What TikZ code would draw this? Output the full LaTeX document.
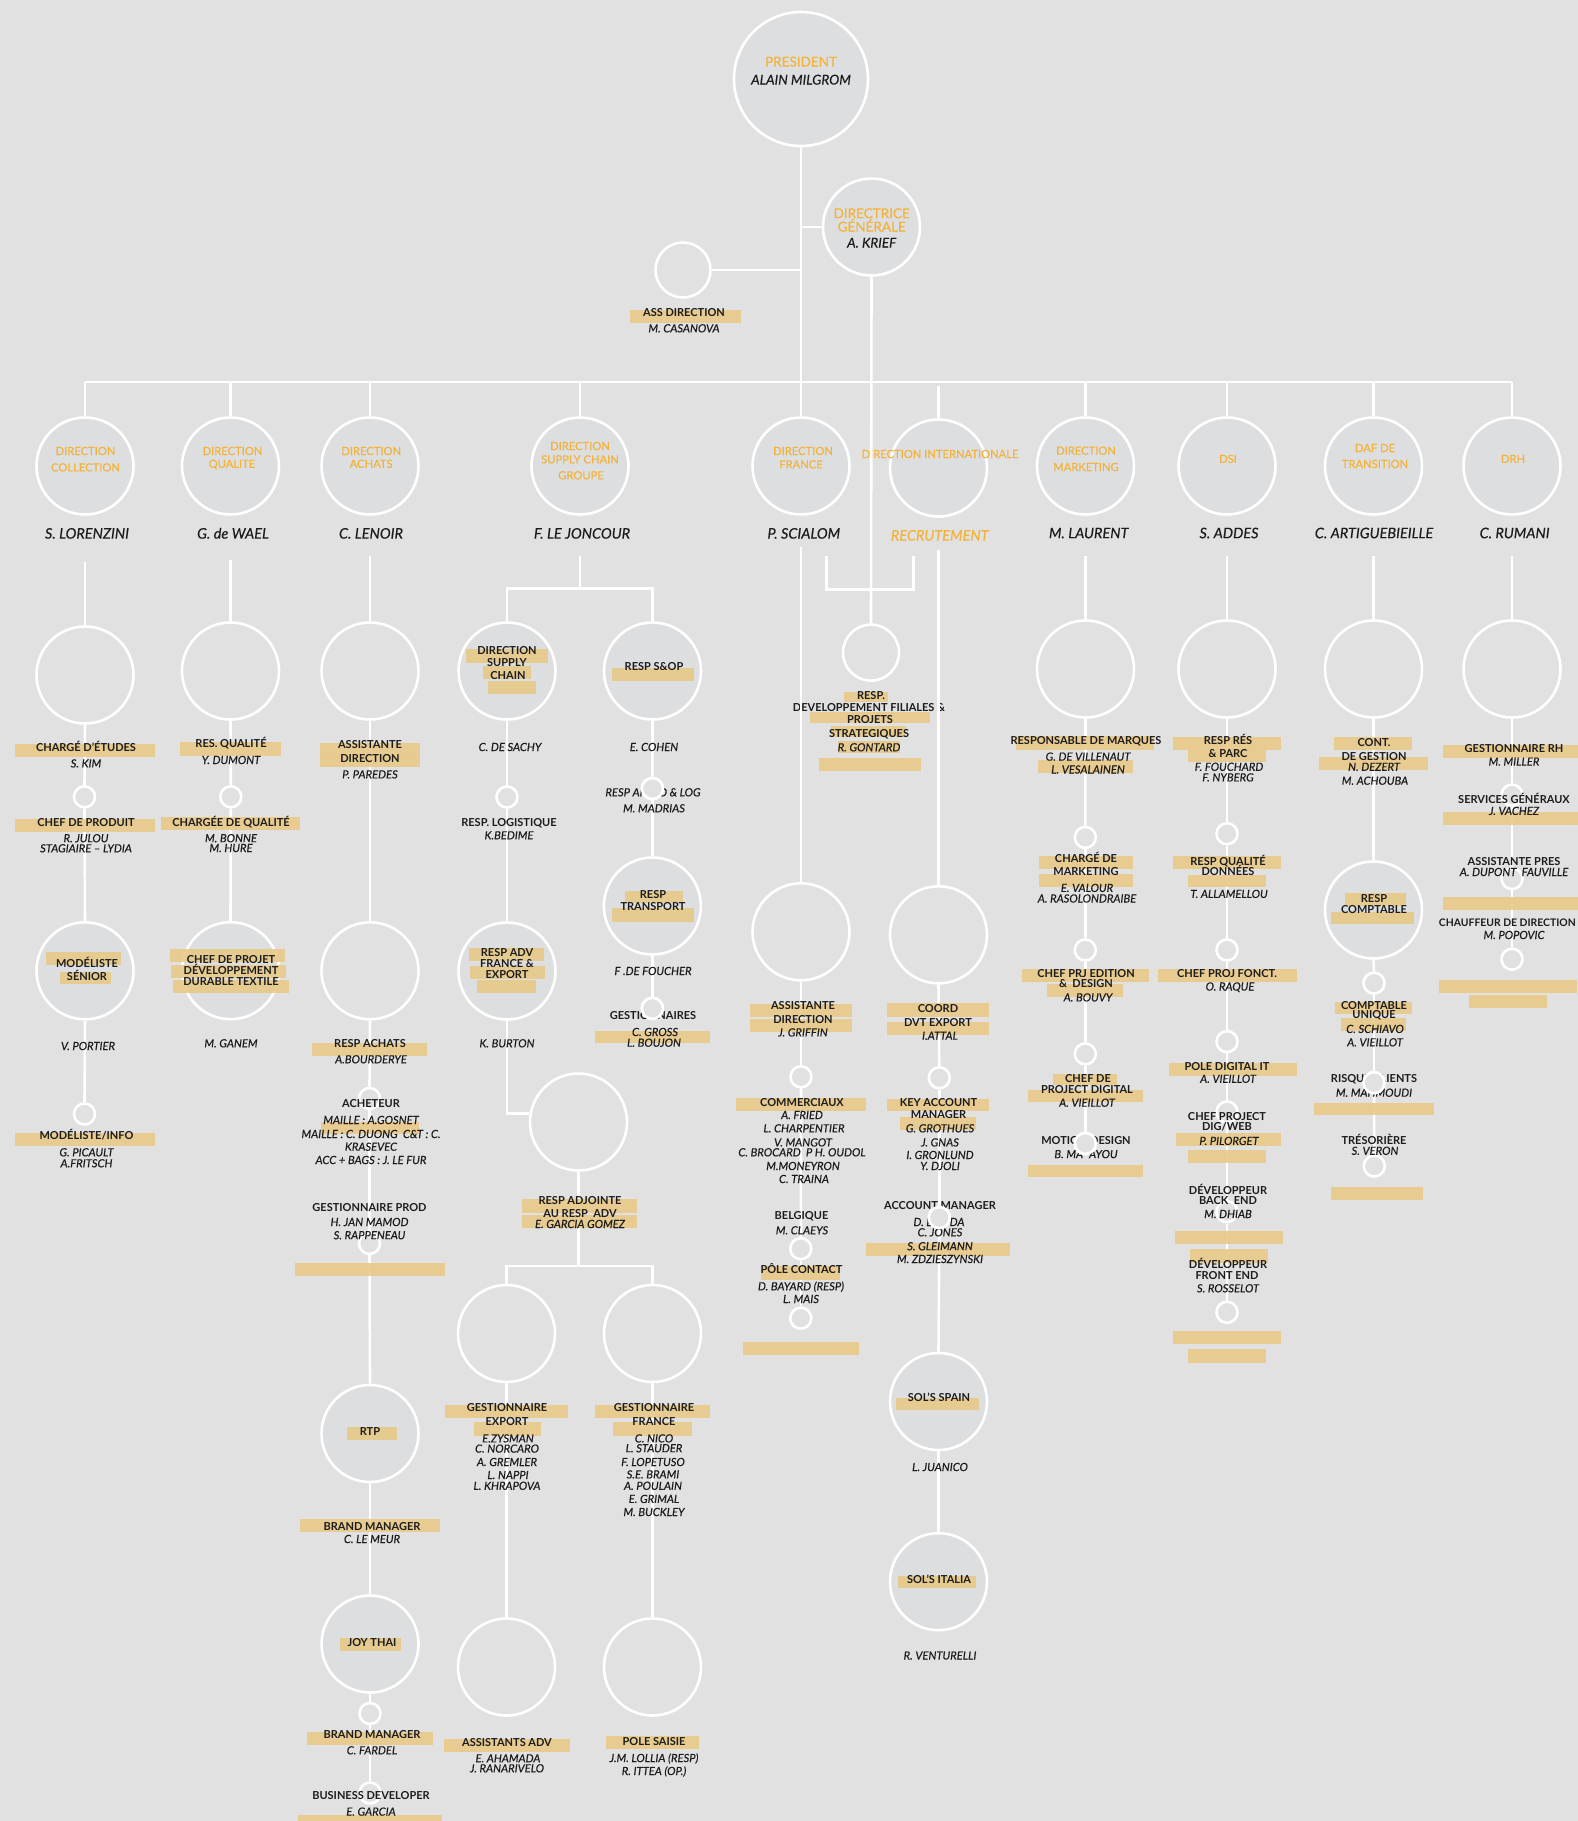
\documentclass[tikz,border=0pt]{standalone}
\usepackage{fontspec}
\setmainfont{Lato}
\newfontfamily\latom{Lato}[FakeBold=0.4]
\definecolor{bgc}{HTML}{E1E1E1}
\definecolor{cfill}{HTML}{DDDEE0}
\definecolor{barc}{HTML}{E8C988}
\definecolor{orng}{HTML}{F2B33D}
\definecolor{txt}{HTML}{1C1C1C}
\tikzset{
 ln/.style={draw=white, line width=2.6pt},
 cir/.style={circle, draw=white, line width=2.6pt, inner sep=0pt},
 bigc/.style={cir, minimum size=97pt},
 bigf/.style={bigc, fill=cfill},
 smc/.style={cir, minimum size=21pt},
 lab/.style={font=\fontsize{11}{12}\selectfont\bfseries, text=txt, anchor=base, yshift=-3.94pt, inner sep=0pt},
 nm/.style={font=\latom\fontsize{11.2}{12}\selectfont\itshape, text=txt, anchor=base, yshift=-4pt, inner sep=0pt},
 bign/.style={font=\latom\fontsize{14.5}{16}\selectfont\itshape, text=txt, anchor=base, yshift=-5.2pt, inner sep=0pt},
 hdr/.style={font=\latom\fontsize{11.2}{13}\selectfont, text=orng, anchor=base, yshift=-4pt, inner sep=0pt},
 phdr/.style={font=\latom\fontsize{13.5}{15}\selectfont, text=orng, anchor=base, yshift=-4.8pt, inner sep=0pt},
 pnm/.style={font=\latom\fontsize{13.5}{15}\selectfont\itshape, text=txt, anchor=base, yshift=-4.8pt, inner sep=0pt},
}
\newcounter{tn}
\newcommand\mytx[4]{\stepcounter{tn}\node[#1] (t\number\value{tn}) at (#2,#3) {#4};}
\newcommand\mybar[4]{\fill[barc, fill opacity=0.9] (#1,#3) rectangle (#2,#4);}
\begin{document}
\begin{tikzpicture}[x=1pt,y=-1pt]
\useasboundingbox (0,0) rectangle (1578,1821);
\fill[bgc] (0,0) rectangle (1578,1821);

% ---------- circles ----------
\node[cir, fill=cfill, minimum size=134pt] (pres) at (801,79) {};
\node[bigf] (dg) at (871.5,227) {};
\node[cir, minimum size=55pt] (ass) at (683,270) {};
\node[bigf] (coll) at (85,466) {};
\node[bigf] (qual) at (230.5,466) {};
\node[bigf] (ach) at (370,466) {};
\node[bigf] (sup) at (580,466) {};
\node[bigf] (fra) at (801,466) {};
\node[bigf] (intl) at (938.5,468) {};
\node[bigf] (mkt) at (1085.5,466) {};
\node[bigf] (dsi) at (1227,466) {};
\node[bigf] (daf) at (1373.5,466) {};
\node[bigf] (drh) at (1512,466) {};

\node[bigc] (coll2) at (85,675) {};
\node[smc] (csc1) at (84.5,796.8) {};
\node[bigf] (modl) at (85,970.8) {};
\node[smc] (csc2) at (84.5,1114) {};

\node[bigc] (qual2) at (230.5,671) {};
\node[smc] (qsc1) at (230.8,796.8) {};
\node[bigf] (cdp) at (230.5,970.7) {};

\node[bigc] (ach2) at (370,671) {};
\node[bigc] (ach3) at (370,970.8) {};
\node[smc] (asc1) at (369.5,1098.5) {};
\node[smc] (asc2) at (369.5,1243.4) {};
\node[bigf] (rtp) at (370,1433.5) {};
\node[bigf] (joy) at (370,1644) {};
\node[smc] (asc3) at (370,1713.5) {};
\node[smc] (asc4) at (370,1793) {};

\node[bigf] (sdir) at (507,671) {};
\node[smc] (ssc1) at (507,797) {};
\node[bigf] (adv) at (507,971) {};
\node[bigc] (adj) at (578.5,1122) {};
\node[bigc] (gexp) at (506.5,1333.5) {};
\node[bigc] (gfra) at (652.5,1333.5) {};
\node[bigc] (asadv) at (506.5,1667) {};
\node[bigc] (psai) at (652.5,1667) {};
\node[bigf] (sop) at (652.5,671) {};
\node[smc] (ssc2) at (652.4,788.5) {};
\node[bigf] (trans) at (652.4,906) {};
\node[smc] (ssc3) at (652.4,1008.3) {};

\node[cir, minimum size=56pt] (dev) at (871,652.6) {};

\node[bigc] (fra2) at (801,931.8) {};
\node[smc] (fsc1) at (801,1076.8) {};
\node[smc] (fsc2) at (800.8,1248.7) {};
\node[smc] (fsc3) at (800.8,1318.2) {};

\node[bigc] (intl2) at (938.5,934.8) {};
\node[smc] (isc1) at (939.3,1077.8) {};
\node[smc] (isc2) at (939.3,1217.6) {};
\node[bigf] (spain) at (938.5,1401.5) {};
\node[bigf] (italia) at (938.5,1581.7) {};

\node[bigc] (mkt2) at (1085.5,669) {};
\node[smc] (msc1) at (1085.3,837.4) {};
\node[smc] (msc2) at (1085.3,950) {};
\node[smc] (msc3) at (1085.3,1053.9) {};
\node[smc] (msc4) at (1085.3,1143.5) {};

\node[bigc] (dsi2) at (1227,669) {};
\node[smc] (dsc1) at (1227,833.7) {};
\node[smc] (dsc2) at (1227,950) {};
\node[smc] (dsc3) at (1227,1041.6) {};
\node[smc] (dsc4) at (1227,1112) {};
\node[smc] (dsc5) at (1227,1211.7) {};
\node[smc] (dsc6) at (1227,1312.3) {};

\node[bigc] (daf2) at (1373.5,669) {};
\node[bigf] (rcomp) at (1373.5,910) {};
\node[smc] (ksc1) at (1374,983.1) {};
\node[smc] (ksc2) at (1374,1082.7) {};
\node[smc] (ksc3) at (1374.3,1166) {};

\node[bigc] (drh2) at (1512,669) {};
\node[smc] (hsc1) at (1512,795) {};
\node[smc] (hsc2) at (1512,878.6) {};
\node[smc] (hsc3) at (1512,959.2) {};

% ---------- connectors ----------
\coordinate (barL) at (85,382);
\coordinate (barR) at (1512,382);
\coordinate (intop) at (938.5,386);
\draw[ln] (barL) -- (barR);
\draw[ln] (pres.south) -- (pres.south |- barL);
\draw[ln] (ass.east) -- (ass.east -| pres.south);
\draw[ln] (dg.west) -- (dg.west -| pres.south);
\foreach \c in {coll,qual,ach,sup,fra,mkt,dsi,daf,drh}
  \draw[ln] (\c.north) -- (\c.north |- barL);
\draw[ln] (intl.north) -- (intl.north |- intop);

\coordinate (kc) at (85,562.4);
\coordinate (kq) at (230.5,560.4);
\coordinate (ka) at (370,555.5);
\coordinate (ks) at (580,555.5);
\coordinate (kf) at (801,546.6);
\coordinate (ki) at (938.5,549.6);
\coordinate (km) at (1085.5,555.5);
\coordinate (kd) at (1227,555.5);
\coordinate (kk) at (1373.5,555.5);
\coordinate (kh) at (1512,555.5);
\coordinate (sj) at (580,588.4);
\coordinate (gj) at (579,1266);
\coordinate (brL) at (826.5,555.5);
\coordinate (brR) at (913.5,555.5);
\coordinate (brB) at (870,589.3);

\draw[ln] (kc) -- (coll2.north);
\draw[ln] (kq) -- (qual2.north);
\draw[ln] (ka) -- (ach2.north);
\draw[ln] (km) -- (mkt2.north);
\draw[ln] (kd) -- (dsi2.north);
\draw[ln] (kk) -- (daf2.north);
\draw[ln] (kh) -- (drh2.north);
\draw[ln] (ks) -- (sj);
\draw[ln] (sdir.north) -- (sdir.north |- sj) -- (sop.north |- sj) -- (sop.north);
\draw[ln] (adv.south) |- (adj.170);
\draw[ln] (adj.south) -- (adj.south |- gj);
\draw[ln] (gexp.north) -- (gexp.north |- gj) -- (gfra.north |- gj) -- (gfra.north);
\draw[ln] (brL) |- (brB) -| (brR);
\foreach \a/\b in {coll2/csc1, csc1/modl, modl/csc2, qual2/qsc1, qsc1/cdp,
  ach2/ach3, ach3/asc1, asc1/asc2, asc2/rtp, rtp/joy, joy/asc3, asc3/asc4,
  sdir/ssc1, ssc1/adv, gexp/asadv, gfra/psai, sop/ssc2, ssc2/trans, trans/ssc3,
  fra2/fsc1, fsc1/fsc2, fsc2/fsc3, intl2/isc1, isc1/isc2, isc2/spain, spain/italia,
  mkt2/msc1, msc1/msc2, msc2/msc3, msc3/msc4,
  dsi2/dsc1, dsc1/dsc2, dsc2/dsc3, dsc3/dsc4, dsc4/dsc5, dsc5/dsc6,
  daf2/rcomp, rcomp/ksc1, ksc1/ksc2, ksc2/ksc3,
  drh2/hsc1, hsc1/hsc2, hsc2/hsc3}
  \draw[ln] (\a.south) -- (\b.north);

% ---------- highlight bars ----------
\mybar{630}{740.7}{310}{323.3}
% collection
\mybar{15}{155}{744.3}{757.3}
\mybar{15}{155}{818.5}{831.7}
\mybar{45.6}{121}{951.6}{965}
\mybar{60}{110.5}{971.7}{984.3}
\mybar{15}{155}{1132.7}{1145.7}
% qualite
\mybar{180}{281}{742.4}{755.7}
\mybar{160.6}{300}{816.5}{830}
\mybar{170}{285}{949.3}{961.6}
\mybar{170.7}{285.7}{965.4}{978.2}
\mybar{173.4}{289}{980}{993.4}
% achats
\mybar{319.5}{420}{742.8}{754.7}
\mybar{319.5}{420}{754.3}{766.5}
\mybar{312}{427}{1043.3}{1055.7}
\mybar{320.5}{419}{1121.6}{1134}
\mybar{295}{444.6}{1263}{1276}
\mybar{347}{397}{1427.3}{1440.4}
\mybar{300}{439.5}{1519}{1531.6}
\mybar{340.4}{401}{1637.9}{1651.4}
\mybar{307}{432.7}{1732}{1745}
\mybar{297.5}{442}{1814.5}{1825}
% supply chain
\mybar{466}{547.7}{649.3}{662.7}
\mybar{483.3}{531}{666}{679.3}
\mybar{488.3}{535.7}{681}{694.3}
\mybar{612}{694}{667.7}{681}
\mybar{625}{683.3}{891}{903.3}
\mybar{612}{694}{908.3}{921.7}
\mybar{595}{710}{1030.7}{1043.3}
\mybar{469.3}{544.3}{948.3}{960.7}
\mybar{470}{545}{966}{978.7}
\mybar{477.3}{536}{980}{993.3}
\mybar{522}{637}{1199.2}{1212.7}
\mybar{522}{637}{1214.7}{1227.8}
\mybar{444.6}{568}{1405}{1418.4}
\mybar{473.7}{541}{1422.4}{1435.5}
\mybar{595}{710}{1405}{1418}
\mybar{613}{691.6}{1422.4}{1435.5}
\mybar{444}{570}{1739}{1752}
\mybar{606}{699}{1736}{1749}
% developpement
\mybar{843.7}{887.7}{691.6}{702.4}
\mybar{810}{930}{712.3}{723.1}
\mybar{831}{906}{725.7}{736.6}
\mybar{838}{899.5}{741}{753.4}
\mybar{819}{921}{757.6}{771}
% france
\mybar{750.4}{851.8}{1003.8}{1016.6}
\mybar{750.4}{851.8}{1018.6}{1032.4}
\mybar{736}{865.7}{1098.4}{1110.7}
\mybar{761}{840}{1266}{1280}
\mybar{743}{858.6}{1342.3}{1355}
% internationale
\mybar{887}{988.8}{1003.3}{1016.6}
\mybar{887}{988.8}{1022.4}{1035}
\mybar{887}{988.8}{1098.5}{1110.7}
\mybar{899.5}{976}{1117.2}{1130}
\mybar{865.7}{1010}{1242.5}{1255.6}
\mybar{895.8}{978.6}{1397.5}{1410.2}
\mybar{897.5}{975.6}{1575.7}{1588}
% marketing
\mybar{1016}{1154.4}{736}{749.5}
\mybar{1037.8}{1133.2}{760}{772.7}
\mybar{1039}{1133.2}{855.7}{869}
\mybar{1039}{1133.2}{874}{886.9}
\mybar{1022}{1148.7}{969.3}{981.8}
\mybar{1047}{1123}{984.1}{996.8}
\mybar{1053.4}{1117.3}{1073.8}{1084.7}
\mybar{1028}{1143}{1089.6}{1102}
\mybar{1028}{1143}{1164.5}{1177.3}
% dsi
\mybar{1173}{1281.3}{737}{749.6}
\mybar{1188}{1265.8}{750}{762.4}
\mybar{1173}{1281.3}{855.7}{869}
\mybar{1188}{1265.8}{874.7}{887.3}
\mybar{1158.4}{1296.5}{968.5}{981.8}
\mybar{1168.5}{1296.5}{1062.9}{1076.1}
\mybar{1176.3}{1281.3}{1133.2}{1146}
\mybar{1188}{1265.8}{1149.6}{1162.6}
\mybar{1175}{1283}{1231}{1244.3}
\mybar{1189.7}{1267.8}{1249.3}{1262.7}
\mybar{1173.2}{1281.3}{1331}{1344}
\mybar{1188}{1265.8}{1349.3}{1362.7}
% daf
\mybar{1333.8}{1412.3}{737}{749.6}
\mybar{1319.4}{1427.8}{756.6}{769.5}
\mybar{1345.3}{1406}{893.4}{906.2}
\mybar{1330.5}{1414}{911.8}{924.4}
\mybar{1334.5}{1412.3}{1001.5}{1014.1}
\mybar{1341}{1406}{1018.3}{1031.4}
\mybar{1314.3}{1433.8}{1102.7}{1115.2}
\mybar{1330.5}{1423}{1186.7}{1200}
% drh
\mybar{1443}{1578}{745.2}{757.8}
\mybar{1443}{1578}{812.2}{825.4}
\mybar{1443}{1578}{896.8}{910.1}
\mybar{1438.9}{1577}{980.2}{992.8}
\mybar{1468.5}{1546.6}{995.1}{1008}

% ---------- texts ----------
\mytx{phdr}{801}{61.7}{PRESIDENT}
\mytx{pnm}{801}{79.7}{ALAIN MILGROM}
\mytx{phdr}{871.7}{213.3}{DIRECTRICE}
\mytx{phdr}{871.7}{226.7}{GÉNÉRALE}
\mytx{pnm}{871.7}{242.7}{A. KRIEF}
\mytx{lab}{684}{312.3}{ASS DIRECTION}
\mytx{nm}{684}{328.3}{M. CASANOVA}

\mytx{hdr}{85.5}{451}{DIRECTION}
\mytx{hdr}{85.5}{467.4}{COLLECTION}
\mytx{hdr}{232.5}{451}{DIRECTION}
\mytx{hdr}{232}{463.8}{QUALITE}
\mytx{hdr}{371.2}{451}{DIRECTION}
\mytx{hdr}{371.2}{463.8}{ACHATS}
\mytx{hdr}{580}{446}{DIRECTION}
\mytx{hdr}{580}{459.4}{SUPPLY CHAIN}
\mytx{hdr}{581}{475.3}{GROUPE}
\mytx{hdr}{803}{451}{DIRECTION}
\mytx{hdr}{801}{464.4}{FRANCE}
\mytx{hdr}{940}{454}{DIRECTION INTERNATIONALE}
\mytx{hdr}{1086}{450.7}{DIRECTION}
\mytx{hdr}{1086}{467}{MARKETING}
\mytx{hdr}{1228}{458.9}{DSI}
\mytx{hdr}{1375}{448}{DAF DE}
\mytx{hdr}{1375}{464}{TRANSITION}
\mytx{hdr}{1513}{458.9}{DRH}

\mytx{bign}{87}{533.4}{S. LORENZINI}
\mytx{bign}{233}{533.4}{G. de WAEL}
\mytx{bign}{371}{533.4}{C. LENOIR}
\mytx{bign}{582}{533.4}{F. LE JONCOUR}
\mytx{bign}{803.8}{533.4}{P. SCIALOM}
\mytx{bign, text=orng}{939.7}{535.3}{RECRUTEMENT}
\mytx{bign}{1088.7}{533}{M. LAURENT}
\mytx{bign}{1229}{533}{S. ADDES}
\mytx{bign}{1374}{533}{C. ARTIGUEBIEILLE}
\mytx{bign}{1514.6}{533}{C. RUMANI}

% collection
\mytx{lab}{86}{747.3}{CHARGÉ D’ÉTUDES}
\mytx{nm}{86}{763.4}{S. KIM}
\mytx{lab}{86}{822.4}{CHEF DE PRODUIT}
\mytx{nm}{86}{838.2}{R. JULOU}
\mytx{nm}{86}{848.3}{STAGIAIRE – LYDIA}
\mytx{lab}{87}{963.4}{MODÉLISTE}
\mytx{lab}{87}{976.7}{SÉNIOR}
\mytx{nm}{88}{1046}{V. PORTIER}
\mytx{lab}{86.5}{1136}{MODÉLISTE/INFO}
\mytx{nm}{86.5}{1152.3}{G. PICAULT}
\mytx{nm}{86.5}{1163.3}{A.FRITSCH}
% qualite
\mytx{lab}{231}{743.8}{RES. QUALITÉ}
\mytx{nm}{231}{760}{Y. DUMONT}
\mytx{lab}{231}{822.4}{CHARGÉE DE QUALITÉ}
\mytx{nm}{231}{838.2}{M. BONNE}
\mytx{nm}{231}{848}{M. HURE}
\mytx{lab}{231}{960}{CHEF DE PROJET}
\mytx{lab}{231}{971}{DÉVELOPPEMENT}
\mytx{lab}{231}{982}{DURABLE TEXTILE}
\mytx{nm}{231}{1043.3}{M. GANEM}
% achats
\mytx{lab}{370}{744.3}{ASSISTANTE}
\mytx{lab}{370}{758.2}{DIRECTION}
\mytx{nm}{370}{774.4}{P. PAREDES}
\mytx{lab}{370}{1043.3}{RESP ACHATS}
\mytx{nm}{371}{1059.3}{A.BOURDERYE}
\mytx{lab}{371}{1104}{ACHETEUR}
\mytx{nm}{371}{1120}{MAILLE : A.GOSNET}
\mytx{nm}{371}{1134}{MAILLE : C. DUONG\ \ C\&T : C.}
\mytx{nm}{371}{1146.7}{KRASEVEC}
\mytx{nm}{371}{1160}{ACC + BAGS : J. LE FUR}
\mytx{lab}{369.5}{1207.8}{GESTIONNAIRE PROD}
\mytx{nm}{369.5}{1222}{H. JAN MAMOD}
\mytx{nm}{369.5}{1235.2}{S. RAPPENEAU}
\mytx{lab}{370}{1432}{RTP}
\mytx{lab}{372}{1526.3}{BRAND MANAGER}
\mytx{nm}{372}{1539}{C. LE MEUR}
\mytx{lab}{372}{1643}{JOY THAI}
\mytx{lab}{372}{1734.8}{BRAND MANAGER}
\mytx{nm}{372}{1750.3}{C. FARDEL}
\mytx{lab}{371}{1795.3}{BUSINESS DEVELOPER}
\mytx{nm}{371}{1811.6}{E. GARCIA}
% supply chain
\mytx{lab}{507}{651}{DIRECTION}
\mytx{lab}{507}{662.3}{SUPPLY}
\mytx{lab}{508}{675.3}{CHAIN}
\mytx{nm}{510}{747}{C. DE SACHY}
\mytx{lab}{509}{822.3}{RESP. LOGISTIQUE}
\mytx{nm}{509}{835.3}{K.BEDIME}
\mytx{lab}{507}{952.3}{RESP ADV}
\mytx{lab}{507}{963.3}{FRANCE \&}
\mytx{lab}{507}{974.3}{EXPORT}
\mytx{nm}{507}{1043.3}{K. BURTON}
\mytx{lab}{580}{1200.4}{RESP ADJOINTE}
\mytx{lab}{580}{1214}{AU RESP\ \ ADV}
\mytx{nm}{580}{1224}{E. GARCIA GOMEZ}
\mytx{lab}{507}{1408}{GESTIONNAIRE}
\mytx{lab}{507}{1422}{EXPORT}
\mytx{nm}{508}{1438.4}{E.ZYSMAN}
\mytx{nm}{507}{1448.6}{C. NORCARO}
\mytx{nm}{507}{1462}{A. GREMLER}
\mytx{nm}{508}{1475}{L. NAPPI}
\mytx{nm}{507}{1485.8}{L. KHRAPOVA}
\mytx{lab}{654}{1408}{GESTIONNAIRE}
\mytx{lab}{654}{1422}{FRANCE}
\mytx{nm}{654}{1438.4}{C. NICO}
\mytx{nm}{654}{1448.2}{L. STAUDER}
\mytx{nm}{653}{1462}{F. LOPETUSO}
\mytx{nm}{653}{1474.4}{S.E. BRAMI}
\mytx{nm}{653}{1485.8}{A. POULAIN}
\mytx{nm}{654}{1498.9}{E. GRIMAL}
\mytx{nm}{654}{1512}{M. BUCKLEY}
\mytx{lab}{507}{1742.3}{ASSISTANTS ADV}
\mytx{nm}{508}{1758.3}{E. AHAMADA}
\mytx{nm}{507}{1768.3}{J. RANARIVELO}
\mytx{lab}{654}{1742}{POLE SAISIE}
\mytx{nm}{654}{1758}{J.M. LOLLIA (RESP)}
\mytx{nm}{654}{1771}{R. ITTEA (OP.)}
\mytx{lab}{654}{667}{RESP S\&OP}
\mytx{nm}{654}{747}{E. COHEN}
\mytx{nm}{653}{792.3}{RESP APPRO \& LOG}
\mytx{nm}{654}{808.3}{M. MADRIAS}
\mytx{lab}{653}{894.3}{RESP}
\mytx{lab}{653}{907}{TRANSPORT}
\mytx{nm}{653}{971}{F .DE FOUCHER}
\mytx{lab}{653}{1016}{GESTIONNAIRES}
\mytx{nm}{655}{1032}{C. GROSS}
\mytx{nm}{654}{1042.7}{L. BOUJON}
% developpement
\mytx{lab}{871}{696}{RESP.}
\mytx{lab}{869}{707.4}{DEVELOPPEMENT FILIALES \&}
\mytx{lab}{870}{719.9}{PROJETS}
\mytx{lab}{869}{734}{STRATEGIQUES}
\mytx{nm}{869}{747.3}{R. GONTARD}
% france
\mytx{lab}{803}{1005.8}{ASSISTANTE}
\mytx{lab}{803}{1019.3}{DIRECTION}
\mytx{nm}{803}{1032.4}{J. GRIFFIN}
\mytx{lab}{802}{1102.4}{COMMERCIAUX}
\mytx{nm}{802}{1115}{A. FRIED}
\mytx{nm}{804}{1128.3}{L. CHARPENTIER}
\mytx{nm}{803}{1142.4}{V. MANGOT}
\mytx{nm}{802}{1152.3}{C. BROCARD\ \ P H. OUDOL}
\mytx{nm}{803}{1166}{M.MONEYRON}
\mytx{nm}{804}{1179}{C. TRAINA}
\mytx{lab}{801.5}{1216}{BELGIQUE}
\mytx{nm}{802}{1230.3}{M. CLAEYS}
\mytx{lab}{801.5}{1270}{PÔLE CONTACT}
\mytx{nm}{801}{1286.3}{D. BAYARD (RESP)}
\mytx{nm}{801}{1299}{L. MAIS}
% internationale
\mytx{lab}{938}{1008.3}{COORD}
\mytx{lab}{938}{1022.4}{DVT EXPORT}
\mytx{nm}{940}{1035.7}{I.ATTAL}
\mytx{lab}{938.5}{1102.4}{KEY ACCOUNT}
\mytx{lab}{938.5}{1115}{MANAGER}
\mytx{nm}{940}{1128.3}{G. GROTHUES}
\mytx{nm}{940}{1142.4}{J. GNAS}
\mytx{nm}{940}{1155}{I. GRONLUND}
\mytx{nm}{940}{1166}{Y. DJOLI}
\mytx{lab}{940}{1205.8}{ACCOUNT MANAGER}
\mytx{nm}{939}{1222}{D. L\hspace{18pt}DA}
\mytx{nm}{940}{1232.3}{C. JONES}
\mytx{nm}{940}{1246.2}{S. GLEIMANN}
\mytx{nm}{940}{1259}{M. ZDZIESZYNSKI}
\mytx{lab}{939}{1398}{SOL’S SPAIN}
\mytx{nm}{940}{1467}{L. JUANICO}
\mytx{lab}{939}{1579.4}{SOL’S ITALIA}
\mytx{nm}{940}{1655.5}{R. VENTURELLI}
% marketing
\mytx{lab}{1086}{740.9}{RESPONSABLE DE MARQUES}
\mytx{nm}{1088}{756.6}{G. DE VILLENAUT}
\mytx{nm}{1088}{769.5}{L. VESALAINEN}
\mytx{lab}{1086}{858.9}{CHARGÉ DE}
\mytx{lab}{1086}{872}{MARKETING}
\mytx{nm}{1087}{887.9}{E. VALOUR}
\mytx{nm}{1087}{898.5}{A. RASOLONDRAIBE}
\mytx{lab}{1086}{973.5}{CHEF PRJ EDITION}
\mytx{lab}{1086}{983.5}{\&\ \ DESIGN}
\mytx{nm}{1088}{997.4}{A. BOUVY}
\mytx{lab}{1088}{1078.8}{CHEF DE}
\mytx{lab}{1087}{1089.6}{PROJECT DIGITAL}
\mytx{nm}{1087}{1102.7}{A. VIEILLOT}
\mytx{lab}{1086}{1140.9}{MOTION DESIGN}
\mytx{nm}{1086}{1154.1}{B. MA\hspace{6pt}AYOU}
% dsi
\mytx{lab}{1228}{740.9}{RESP RÉS}
\mytx{lab}{1228}{753.7}{\& PARC}
\mytx{nm}{1229}{766.8}{F. FOUCHARD}
\mytx{nm}{1228}{777.4}{F. NYBERG}
\mytx{lab}{1228}{861.6}{RESP QUALITÉ}
\mytx{lab}{1228}{872}{DONNÉES}
\mytx{nm}{1229}{893.9}{T. ALLAMELLOU}
\mytx{lab}{1227}{973.5}{CHEF PROJ FONCT.}
\mytx{nm}{1230}{986.5}{O. RAQUE}
\mytx{lab}{1227}{1066.1}{POLE DIGITAL IT}
\mytx{nm}{1228}{1078.8}{A. VIEILLOT}
\mytx{lab}{1227}{1117}{CHEF PROJECT}
\mytx{lab}{1227}{1127}{DIG/WEB}
\mytx{nm}{1229}{1140.9}{P. PILORGET}
\mytx{lab}{1228}{1190.7}{DÉVELOPPEUR}
\mytx{lab}{1228}{1200.7}{BACK\ \ END}
\mytx{nm}{1228}{1214}{M. DHIAB}
\mytx{lab}{1228}{1264.3}{DÉVELOPPEUR}
\mytx{lab}{1227}{1275.7}{FRONT END}
\mytx{nm}{1228}{1288.3}{S. ROSSELOT}
% daf
\mytx{lab}{1374}{742.8}{CONT.}
\mytx{lab}{1374}{756.6}{DE GESTION}
\mytx{nm}{1374}{766.8}{N. DEZERT}
\mytx{nm}{1375}{780.7}{M. ACHOUBA}
\mytx{lab}{1374}{898.5}{RESP}
\mytx{lab}{1374}{909.5}{COMPTABLE}
\mytx{lab}{1374}{1005.8}{COMPTABLE}
\mytx{lab}{1374}{1015}{UNIQUE}
\mytx{nm}{1375}{1028.9}{C. SCHIAVO}
\mytx{nm}{1375}{1042.3}{A. VIEILLOT}
\mytx{lab}{1374}{1078.8}{RISQUE CLIENTS}
\mytx{nm}{1374}{1092.7}{M. MAHMOUDI}
\mytx{lab}{1374}{1140.9}{TRÉSORIÈRE}
\mytx{nm}{1375}{1150.8}{S. VERON}
% drh
\mytx{lab}{1514}{748.4}{GESTIONNAIRE RH}
\mytx{nm}{1514}{761.6}{M. MILLER}
\mytx{lab}{1514}{799.9}{SERVICES GÉNÉRAUX}
\mytx{nm}{1514}{810.9}{J. VACHEZ}
\mytx{lab}{1514}{862}{ASSISTANTE PRES}
\mytx{nm}{1514}{872}{A. DUPONT\ \ FAUVILLE}
\mytx{lab, font=\fontsize{10.4}{12}\selectfont\bfseries, anchor=base east}{1576}{922.8}{CHAUFFEUR DE DIRECTION}
\mytx{nm}{1514}{935}{M. POPOVIC}

% ---------- elements lying over the text ----------
\node[smc, fill=bgc] (ssc2b) at (ssc2) {};
\node[smc, fill=bgc] (ssc3b) at (ssc3) {};
\node[smc, fill=bgc] (isc2b) at (isc2) {};
\node[smc, fill=bgc] (ksc2b) at (ksc2) {};
\node[smc, fill=bgc] (msc4b) at (msc4) {};
\draw[ln] (dg.south) -- (dev.north);
\draw[ln] (kf) -- (fra2.north);
\draw[ln] (ki) -- (intl2.north);
\end{tikzpicture}
\end{document}
